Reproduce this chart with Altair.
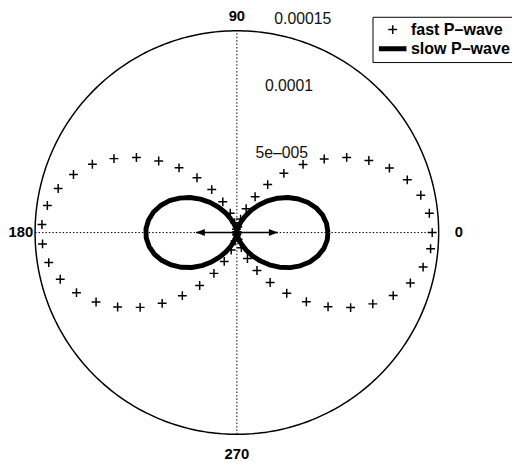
import altair as alt
import numpy as np
import pandas as pd

# ---------------- data ----------------
# sampling angles (rad)
theta = [0.0, 0.1, 0.2, 0.3, 0.4, 0.5, 0.6, 0.7, 0.8, 0.9,
         1.0, 1.1, 1.2, 1.3, 1.4, 1.5, 1.6, 1.7, 1.8, 1.9,
         2.0, 2.1, 2.2, 2.3, 2.4, 2.5, 2.6, 2.7, 2.8, 2.9,
         3.0, 3.1, 3.2, 3.3, 3.4, 3.5, 3.6, 3.7, 3.8, 3.9,
         4.0, 4.1, 4.2, 4.3, 4.4, 4.5, 4.6, 4.7, 4.8, 4.9,
         5.0, 5.1, 5.2, 5.3, 5.4, 5.5, 5.6, 5.7, 5.8, 5.9,
         6.0, 6.1, 6.2]
# fast P-wave amplitude (x 1e-4)
fast_r = [1.452, 1.438, 1.395, 1.326, 1.231, 1.118, 0.989, 0.849, 0.706, 0.562,
          0.424, 0.299, 0.190, 0.104, 0.042, 0.007, 0.001, 0.024, 0.075, 0.152,
          0.251, 0.370, 0.504, 0.645, 0.788, 0.932, 1.066, 1.188, 1.289, 1.368,
          1.423, 1.450, 1.447, 1.416, 1.358, 1.273, 1.167, 1.045, 0.909, 0.765,
          0.620, 0.481, 0.348, 0.234, 0.137, 0.065, 0.018, 0.000, 0.011, 0.051,
          0.117, 0.208, 0.319, 0.446, 0.584, 0.729, 0.874, 1.013, 1.141, 1.253,
          1.343, 1.408, 1.445]
# slow P-wave amplitude (x 1e-4)
slow_r = [0.677, 0.670, 0.651, 0.618, 0.574, 0.521, 0.461, 0.396, 0.329, 0.262,
          0.198, 0.139, 0.089, 0.048, 0.020, 0.003, 0.001, 0.011, 0.035, 0.071,
          0.117, 0.173, 0.235, 0.301, 0.368, 0.435, 0.497, 0.554, 0.601, 0.638,
          0.663, 0.676, 0.675, 0.660, 0.633, 0.594, 0.544, 0.487, 0.424, 0.357,
          0.289, 0.224, 0.162, 0.109, 0.064, 0.030, 0.009, 0.000, 0.005, 0.024,
          0.055, 0.097, 0.149, 0.208, 0.272, 0.340, 0.408, 0.473, 0.532, 0.584,
          0.626, 0.657, 0.674]
series_names = ["fast P\u2013wave", "slow P\u2013wave"]
ring_ticks = [5e-5, 1e-4, 1.5e-4]
ring_labels = ["5e\u2013005", "0.0001", "0.00015"]
angle_ticks = [0, 90, 180, 270]
angle_labels = ["0", "90", "180", "270"]
arrow_half = 0.304  # polarisation arrow half length (x 1e-4)
UNIT = 1e-4

# ---------------- layout ----------------
W, H = 512, 457
RMAX = ring_ticks[-1]
PX = 205.0 / RMAX          # pixels per data unit
CX, CY = 232.5, 224.5      # pole inside the plot area
xdom = [-CX / PX, (W - CX) / PX]
ydom = [-(H - CY) / PX, CY / PX]
FONT = "Liberation Sans"

X = alt.X("x:Q", scale=alt.Scale(domain=xdom, nice=False, zero=False), axis=None)
Y = alt.Y("y:Q", scale=alt.Scale(domain=ydom, nice=False, zero=False), axis=None)


def polar(r, th):
    r = np.asarray(r, dtype=float)
    th = np.asarray(th, dtype=float)
    return r * np.cos(th), r * np.sin(th)


fx, fy = polar(np.array(fast_r) * UNIT, theta)
fast = pd.DataFrame({"i": range(len(theta)), "x": fx, "y": fy, "series": series_names[0]})

sx, sy = polar(np.array(slow_r) * UNIT, theta)
slow = pd.DataFrame({"i": range(len(theta)), "x": sx, "y": sy})
slow = pd.concat([slow, slow.iloc[[0]].assign(i=len(theta))], ignore_index=True)

phi = np.linspace(0, 2 * np.pi, 361)
cx_, cy_ = polar(np.full_like(phi, RMAX), phi)
ring = pd.DataFrame({"i": range(len(phi)), "x": cx_, "y": cy_})

cross = pd.DataFrame({"x": [-RMAX, 0.0], "x2": [RMAX, 0.0],
                      "y": [0.0, -RMAX], "y2": [0.0, RMAX]})

ang = np.deg2rad(angle_ticks)
ax_, ay_ = polar(np.full(len(ang), 1.1 * RMAX), ang)
alab = pd.DataFrame({"x": ax_, "y": ay_, "label": angle_labels})

rt = np.array(ring_ticks)
rx_, ry_ = polar(rt + (ring_ticks[0]) / 20, np.full(len(rt), np.deg2rad(82)))
rlab = pd.DataFrame({"x": rx_, "y": ry_, "label": ring_labels})

arrow = pd.DataFrame({"x": [-arrow_half * UNIT], "x2": [arrow_half * UNIT], "y": [0.0]})
head_r = pd.DataFrame({"x": [arrow_half * UNIT], "y": [0.0]})
head_l = pd.DataFrame({"x": [-arrow_half * UNIT], "y": [0.0]})

PLUS = "M-1,0L1,0M0,-1L0,1"
legend = alt.Legend(title=None, orient="none", legendX=370.3, legendY=5.3,
                    direction="vertical", columns=1, fillColor="white", strokeColor="black",
                    padding=4, labelFont=FONT, labelFontSize=16.3, labelFontWeight="bold",
                    labelColor="black", labelOffset=2, symbolStrokeColor="black",
                    symbolFillColor="black", rowPadding=1.5, clipHeight=18,
                    symbolOpacity=1)

grid = alt.Chart(cross).mark_rule(color="black", strokeWidth=1, strokeDash=[1.5, 2]).encode(
    x=X, x2="x2:Q", y=Y, y2="y2:Q")
outer = alt.Chart(ring).mark_line(color="black", strokeWidth=1.5).encode(x=X, y=Y, order="i:Q")
slow_line = alt.Chart(slow).mark_line(color="black", strokeWidth=5, strokeJoin="round").encode(
    x=X, y=Y, order="i:Q")
fast_pts = alt.Chart(fast).mark_point(color="black", filled=False, opacity=1).encode(
    x=X, y=Y,
    shape=alt.Shape("series:N", scale=alt.Scale(domain=series_names, range=[PLUS, "stroke"]),
                    legend=legend),
    size=alt.Size("series:N", scale=alt.Scale(domain=series_names, range=[81, 784]),
                  legend=legend),
    strokeWidth=alt.StrokeWidth("series:N",
                                scale=alt.Scale(domain=series_names, range=[1.5, 5]),
                                legend=legend),
)
arrow_line = alt.Chart(arrow).mark_rule(color="black", strokeWidth=1.6).encode(
    x=X, x2="x2:Q", y=Y)
arrow_r = alt.Chart(head_r).mark_point(shape="M0,0L-2,-0.8L-2,0.8Z", filled=True, color="black",
                                       size=81, opacity=1, strokeWidth=0).encode(x=X, y=Y)
arrow_l = alt.Chart(head_l).mark_point(shape="M0,0L2,-0.8L2,0.8Z", filled=True, color="black",
                                       size=81, opacity=1, strokeWidth=0).encode(x=X, y=Y)

atext = dict(font=FONT, fontSize=15, fontWeight="bold", color="black", align="center",
             baseline="middle")
ang_main = alt.Chart(alab[alab.label.isin(["0", "270"])]).mark_text(**atext).encode(
    x=X, y=Y, text="label:N")
ang_top = alt.Chart(alab[alab.label == "90"]).mark_text(dy=6, **atext).encode(
    x=X, y=Y, text="label:N")
ang_left = alt.Chart(alab[alab.label == "180"]).mark_text(dx=6, **atext).encode(
    x=X, y=Y, text="label:N")
rtext = alt.Chart(rlab).mark_text(font=FONT, fontSize=16, color="#111", align="left",
                                  baseline="alphabetic", dx=9, dy=-5).encode(
    x=X, y=Y, text="label:N")

chart = alt.layer(
    grid, outer, slow_line, fast_pts, arrow_line, arrow_r, arrow_l,
    ang_main, ang_top, ang_left, rtext
).properties(
    width=W, height=H, padding=0, autosize=alt.AutoSizeParams(type="none"),
    background="white"
).configure_view(stroke=None)

chart.save("out.html", embed_options={"renderer": "svg", "actions": False})
